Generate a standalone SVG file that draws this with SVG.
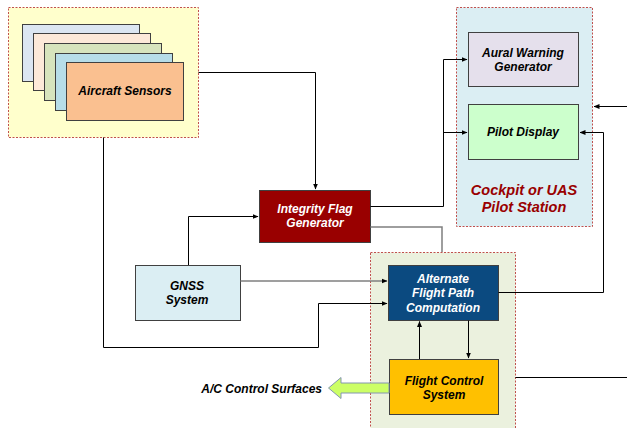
<svg xmlns="http://www.w3.org/2000/svg" width="627" height="428" viewBox="0 0 627 428">
<defs>
<marker id="ah" markerWidth="6" markerHeight="6" refX="5.5" refY="3" orient="auto" markerUnits="userSpaceOnUse">
<path d="M0,0.5 L6,3 L0,5.5 z" fill="#000"/>
</marker>
<style>
text{font-family:"Liberation Sans",Arial,sans-serif;font-weight:bold;font-style:italic;text-anchor:middle}
.t{font-size:12px;fill:#000}
.w{font-size:12px;fill:#fff}
.box{stroke:#404040;stroke-width:1}
.cont{stroke:#c0504d;stroke-width:1;stroke-dasharray:2,1.5}
.c{fill:none;stroke:#000;stroke-width:1}
.g{fill:none;stroke:#7f7f7f;stroke-width:1.5}
</style>
</defs>
<rect width="627" height="428" fill="#fff"/>

<g id="sensors-group">
<rect class="cont" x="8.5" y="7.5" width="190" height="130" fill="#ffffcc"/>
<rect class="box" x="22.5" y="24.5" width="117" height="57" fill="#dce6f2"/>
<rect class="box" x="33.5" y="33.5" width="117" height="57" fill="#fde9d9"/>
<rect class="box" x="44.5" y="43.5" width="117" height="57" fill="#d7e4bd"/>
<rect class="box" x="55.5" y="53.5" width="117" height="57" fill="#b7dde8"/>
<rect class="box" x="66.5" y="62.5" width="117" height="58" fill="#fac090"/>
<text class="t" x="125" y="95">Aircraft Sensors</text>
</g>

<g id="cockpit">
<rect class="cont" x="456.5" y="7.5" width="136" height="219" fill="#dbeef3"/>
<text x="524" y="195" style="font-size:14.5px;fill:#990000">Cockpit or UAS</text>
<text x="524" y="212" style="font-size:14.5px;fill:#990000">Pilot Station</text>
</g>

<g id="aural">
<rect class="box" x="468.5" y="32.5" width="110" height="54" fill="#e5e0ec"/>
<text class="t" x="523" y="57">Aural Warning</text>
<text class="t" x="523" y="71">Generator</text>
</g>

<g id="pilot-display">
<rect class="box" x="468.5" y="104.5" width="110" height="55" fill="#ccffcc"/>
<text class="t" x="523" y="136">Pilot Display</text>
</g>

<g id="integrity">
<rect class="box" x="259.5" y="190.5" width="111" height="52" fill="#990000"/>
<text class="w" x="315" y="213">Integrity Flag</text>
<text class="w" x="315" y="227">Generator</text>
</g>

<g id="gnss">
<rect class="box" x="135.5" y="265.5" width="105" height="55" fill="#dbeef3"/>
<text class="t" x="187" y="290">GNSS</text>
<text class="t" x="187" y="304">System</text>
</g>

<g id="fc-container">
<rect class="cont" x="370.5" y="252.5" width="145" height="180" fill="#ebf1de"/>
</g>

<g id="alternate">
<rect class="box" x="388.5" y="265.5" width="110" height="55" fill="#0b4a80"/>
<text class="w" x="443" y="283">Alternate</text>
<text class="w" x="443" y="297">Flight Path</text>
<text class="w" x="443" y="312">Computation</text>
</g>

<g id="flight-control">
<rect class="box" x="389.5" y="359.5" width="109" height="55" fill="#ffc000"/>
<text class="t" x="444" y="385">Flight Control</text>
<text class="t" x="444" y="399">System</text>
</g>

<g id="connectors">
<path class="c" d="M198.5,72.5 H315.5 V189" marker-end="url(#ah)"/>
<path class="c" d="M103.5,137.5 V347.5 H318.5 V303.5 H387" marker-end="url(#ah)"/>
<path class="c" d="M188.5,265 V216.5 H258" marker-end="url(#ah)"/>
<path class="g" d="M240.5,281 H387" marker-end="url(#ah)"/>
<path class="c" d="M370.5,206.5 H443.5 V59.5 H467" marker-end="url(#ah)"/>
<path class="c" d="M443.5,132.5 H467" marker-end="url(#ah)"/>
<path class="g" d="M370.5,227 H442 V252"/>
<path class="c" d="M498.5,292.5 H603.5 V132.5 H580" marker-end="url(#ah)"/>
<path class="c" d="M627,106.5 H594" marker-end="url(#ah)"/>
<path class="c" d="M419.5,359 V321.5" marker-end="url(#ah)"/>
<path class="c" d="M468.5,320.5 V358" marker-end="url(#ah)"/>
<path class="c" d="M515.5,377.5 H627"/>
<path d="M389,383 H341 V377.5 L328.5,388 L341,398.5 V393 H389 Z" fill="#ccff66" stroke="#8496b0" stroke-width="1"/>
</g>
<text x="322" y="393" style="font-size:12px;fill:#000;text-anchor:end">A/C Control Surfaces</text>
</svg>
